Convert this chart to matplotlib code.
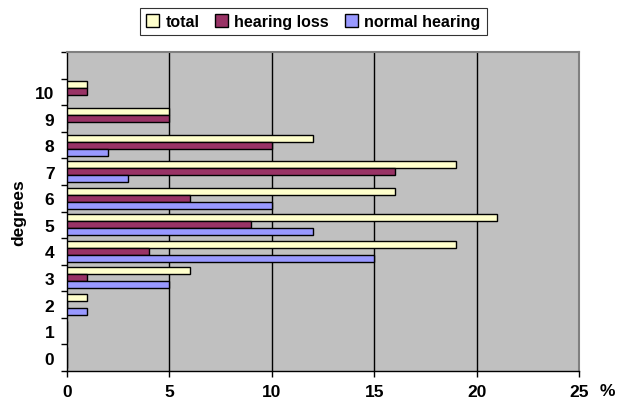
import matplotlib
matplotlib.use("Agg")
import matplotlib.pyplot as plt
import numpy as np

plt.rcParams['font.family'] = ['Liberation Sans', 'DejaVu Sans']

degrees = [0, 1, 2, 3, 4, 5, 6, 7, 8, 9, 10]
total = [0, 0, 1, 6, 19, 21, 16, 19, 12, 5, 1]
hearing_loss = [0, 0, 0, 1, 4, 9, 6, 16, 10, 5, 1]
normal_hearing = [0, 0, 1, 5, 15, 12, 10, 3, 2, 0, 0]
series_names = ["total", "hearing loss", "normal hearing"]
colors = ["#FFFFCC", "#993366", "#9999FF"]
xticks = [0, 5, 10, 15, 20, 25]

fig = plt.figure(figsize=(6.18, 4.02), dpi=100)
ax = fig.add_axes([0.1084, 0.0746, 0.937 - 0.1084, 0.868 - 0.0746])
ax.set_facecolor("#C0C0C0")

y = np.array(degrees, dtype=float)
h = 0.263
data = [total, hearing_loss, normal_hearing]
offsets = [h, 0, -h]
handles = []
for vals, c, off, name in zip(data, colors, offsets, series_names):
    bars = ax.barh(y + off, vals, height=h, color=c, edgecolor="black",
                   linewidth=1.0, label=name, zorder=3)
    handles.append(bars)

ax.set_xlim(0, 25)
ax.set_ylim(-0.5, 11.5)
for gx in xticks[1:-1]:
    ax.axvline(gx, color="black", linewidth=1.0, zorder=1)

fs = 12.5
ax.set_xticks(xticks)
ax.set_xticklabels([str(t) for t in xticks], fontsize=fs, fontweight="bold")
ax.set_yticks(np.arange(-0.5, 12, 1.0))
ax.set_yticklabels([])
ax.set_yticks(degrees, minor=True)
ax.set_yticklabels([str(d) for d in degrees], minor=True, fontsize=fs, fontweight="bold")
ax.tick_params(axis="y", which="minor", length=0, pad=9)
ax.tick_params(axis="y", which="major", length=4, direction="out", width=1)
ax.tick_params(axis="x", length=4, direction="out", width=1, pad=5)

for s in ["top", "right"]:
    ax.spines[s].set_color("#808080")
    ax.spines[s].set_linewidth(1.5)
for s in ["left", "bottom"]:
    ax.spines[s].set_color("black")
    ax.spines[s].set_linewidth(1.0)

ax.set_ylabel("degrees", fontsize=fs, fontweight="bold")
ax.yaxis.set_label_coords(-0.08, 0.5)
fig.text(0.982, 0.027, "%", fontsize=fs, fontweight="bold", ha="center", va="center")

leg = fig.legend(handles=handles, labels=series_names, loc="center",
                 bbox_to_anchor=(0.507, 0.944), ncol=3, frameon=True,
                 fancybox=False, edgecolor="black",
                 prop={"weight": "bold", "size": 11.5},
                 handlelength=0.8, handleheight=0.8, handletextpad=0.4,
                 columnspacing=1.0, borderpad=0.4)
leg.get_frame().set_linewidth(0.8)

fig.savefig("out.png", dpi=100)
